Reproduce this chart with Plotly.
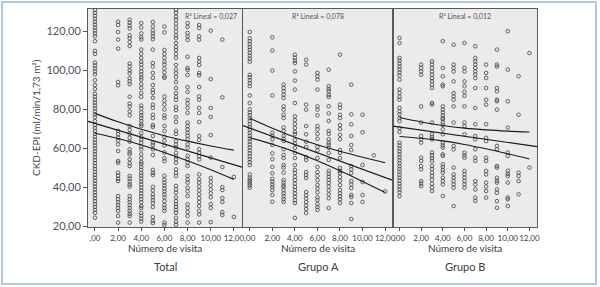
import plotly.graph_objects as go

W, H = 600, 287

# ---------------- data ----------------
visit_cols = [0, 2, 3, 4, 5, 6, 7, 8, 9, 10, 11, 12]

total_vals = [
    [131, 129.5, 128, 126.5, 125, 123.5, 122, 120.5, 119, 117.5, 115, 110, 108.5, 104, 102.5, 101, 99.5,
     98, 95, 92.5, 90.5, 88, 86.5, 85, 83.5, 82, 80.5, 79, 77.5, 76, 74, 72, 70.5, 69, 67.5, 66, 64.5, 63,
     61.5, 60, 58.5, 57, 55.5, 54, 52.5, 51, 49.5, 48, 46.5, 45, 43.5, 42, 40.5, 39, 37.5, 36, 34.5, 33,
     31.5, 30, 28.5, 27, 24.5],
    [125, 123.3, 119.7, 115.8, 111.2, 94.1, 92.4, 69, 67.3, 65.6, 64, 62.1, 58.7, 53.6, 52.7, 47.6, 46,
     44.5, 43.3, 35.6, 34, 32.5, 31, 29.5, 27.9, 25.4, 22],
    [126, 124.5, 123, 121.5, 118, 116.5, 114.5, 112.5, 103.5, 102, 100, 98.5, 96, 94.5, 93, 86.5, 83, 81.5,
     79, 77, 71.5, 69.5, 67.5, 65.5, 63.5, 59.6, 58, 57, 54.4, 52.5, 51, 45.9, 44.5, 43, 41.5, 40.5, 35.6,
     34, 32.5, 31, 29.5, 28, 26.5, 25.4, 22],
    [124.3, 122, 119, 117, 115.8, 110.7, 108.5, 106.4, 104.5, 103, 101.3, 99.5, 98, 96.5, 95.3, 93, 91,
     88.5, 86.5, 82, 80.5, 78.5, 77, 75.6, 74, 72.5, 71.5, 68, 66, 64.5, 63, 61, 59.5, 57, 55, 53, 52,
     50.5, 49, 47.4, 46, 44.5, 43, 41.5, 40, 38.5, 37, 35.5, 34, 32.5, 30.5, 29.5, 27, 25.5, 24, 22.5],
    [124.9, 122.6, 120.5, 119, 117.5, 116, 110.7, 103.8, 102, 98.7, 96.2, 92.5, 90, 88.5, 86, 82.5, 80.8,
     77.3, 75.6, 72, 71, 66.4, 63, 61.8, 59.6, 56.7, 49, 47.5, 46.4, 40.3, 38.5, 36.5, 35, 33.5, 32, 30,
     24.9, 23, 21.8],
    [122.5, 119.5, 110.5, 108.5, 106.5, 104.5, 103, 101, 99, 97, 96.2, 86.7, 84.5, 82.5, 80, 77, 75.6,
     71.6, 69, 66, 64, 61.5, 58, 55, 53.5, 46, 44, 42.5, 41, 39.5, 38, 36.5, 35, 33, 31, 29.5, 28, 22, 20.8],
    [131, 129.5, 127.5, 126, 124, 122, 120, 118, 116.5, 114, 112, 110.5, 108.5, 106.5, 102.8, 100.4, 98.5,
     96.5, 94, 91, 88.5, 86.5, 84.9, 81.3, 79.7, 76, 73.6, 69, 67.5, 63.8, 62, 60.4, 57.8, 56, 54.5, 52.7,
     49.3, 47.5, 45.9, 40.8, 39, 37.3, 34.8, 33, 31.5, 30, 28.5, 27, 24.5, 22.5, 21],
    [124.3, 122.3, 119.2, 117.5, 115.6, 107, 101.3, 100.3, 97.7, 91.5, 89, 84.9, 83, 80.8, 78.2, 73.3,
     71.5, 69.8, 68.1, 66.5, 64.7, 62.1, 60.4, 56.2, 54.5, 52.7, 51, 45.9, 44, 42.5, 39.9, 38, 35.6, 31.4,
     29.5, 27.5, 25.4, 22],
    [123.3, 121.8, 117.5, 115.8, 106.4, 104.5, 102.8, 98.7, 97.5, 91.5, 86.7, 85, 80.8, 78.2, 73.6, 66.4,
     64.4, 59.6, 57.8, 56, 54.4, 46.7, 44.2, 42.5, 40.5, 38.5, 36.5, 34.5, 32.5, 30.5, 28, 26.2, 22],
    [120.4, 95.6, 80.8, 76.2, 66.9, 55.3, 44.9, 43, 41, 39, 37, 35, 31.5, 29.5, 22.3],
    [115.8, 86.2, 50.5, 40.2, 38.7, 34.6, 32.6, 27.4, 25.9],
    [45.4, 24.9],
]

grupo_a_vals = [
    [119.7, 116.5, 115, 113.5, 112, 110.5, 109, 107.5, 106, 104.5, 97.8, 96.5, 95, 93.5, 92, 87.2, 83.3,
     80, 78.5, 77, 75.6, 74, 72.5, 71, 69.5, 68, 66.5, 65, 63.5, 62, 60.5, 59, 57.5, 56, 54.5, 53, 51.5,
     46.7, 45, 44, 43, 42, 41, 39.9],
    [117, 110.2, 99.9, 87.2, 68.1, 66.5, 64.7, 61.8, 57.5, 54.5, 50.6, 47.3, 44.4, 43, 41.5, 40.3, 38.7,
     36.2, 32.7],
    [92.7, 91, 89.3, 87.6, 85.9, 81.6, 79.9, 77.3, 75.6, 70.8, 69, 66.4, 65, 63.8, 59.6, 56.7, 55.1, 51.5,
     50.2, 47.6, 43.8, 42.5, 41, 40.3, 38.7, 37, 35.5, 34, 32.6],
    [108.1, 106.5, 105, 103.8, 99.5, 94.8, 90.2, 83.3, 76.5, 74.5, 72.5, 70.5, 68.5, 67.3, 64.4, 62.5,
     60.3, 57.7, 55.1, 51.5, 49, 47.4, 45.5, 43.8, 42, 40.3, 38.7, 37, 35.3, 33.5, 32, 24.4],
    [105.5, 103, 82.5, 79.9, 71.5, 67.3, 63.5, 60.8, 55.6, 54.1, 47.9, 46.4, 44.9, 37.7, 36, 34.3, 32.5,
     30.8, 29, 26.9],
    [98.7, 97, 95.3, 90.2, 81.6, 79.9, 77, 71.5, 69.8, 67.5, 65, 60.8, 59, 55.1, 50.5, 47.9, 46, 43.8,
     41.3, 39.5, 37.5, 35, 33.6, 31.5, 30, 28.5],
    [100.4, 91.9, 90.5, 89.3, 87.5, 86.4, 81.6, 78, 74.1, 69, 67.5, 64.7, 63, 61.8, 60.4, 57.8, 54.1,
     48.5, 47, 45.5, 44, 42.3, 40.5, 38.5, 36.5, 34.5, 29.5],
    [108.1, 82.5, 80.8, 77.3, 75.6, 72, 70, 67, 64.7, 59.2, 57.7, 55, 50, 48.5, 47.4, 45.4, 43.5, 41.3,
     38.7, 37, 35.5, 34, 32],
    [92.7, 77.5, 72.4, 66.4, 61.8, 59.2, 51, 49.3, 47.4, 43.3, 41.6, 39.7, 36.2, 35.1, 32, 23.8],
    [77.3, 68.3, 51.5, 42.8, 36.2, 32.6],
    [56.5],
    [38],
]

grupo_b_vals = [
    [116.7, 114.1, 106.4, 105, 103.5, 102, 100.5, 99, 97.5, 95.3, 90.2, 88.5, 86.5, 85, 80.8, 79, 77.5,
     75.6, 74, 70.5, 68.5, 63, 61.5, 60, 58.5, 57, 55.5, 54, 52.5, 51, 49.5, 48, 46.5, 45, 43.5, 42, 40.5,
     39, 37.5, 35.6],
    [103, 101.2, 99.5, 97.8, 81.6, 73.3, 66.4, 64.7, 63, 55.3, 53.6, 51, 49.3, 43.3, 42, 40.8],
    [104.7, 103, 101.3, 99.5, 97.8, 96, 94.5, 92.7, 91, 83.3, 82.5, 73.3, 67.3, 65.9, 64.7, 57.9, 56.5,
     55, 53.6, 51, 49.5, 47.6, 45.9, 44, 42, 40, 38.2],
    [115, 101.3, 97, 92.7, 91.9, 81.6, 80, 78.5, 77, 75.6, 75, 73.5, 72, 69.8, 67.3, 63, 61.5, 60.4, 57,
     56.2, 51.9, 50.5, 49, 47.6, 45, 43.3, 41.6, 35.6],
    [113.2, 103, 101.2, 99.5, 94.4, 88.4, 86.7, 85, 81.6, 73.3, 61.3, 59.6, 50.2, 46.7, 45, 43.3, 41.6,
     39.9, 30.5],
    [114.1, 101.3, 99.5, 94.4, 91.9, 89, 87, 81.6, 73.3, 71.5, 67.3, 57.9, 56.5, 55.3, 48.5, 46.8, 45,
     43.3, 41.6, 39.9],
    [112.4, 106.4, 104.7, 103, 101.3, 99.6, 97.9, 96.1, 91, 80.8, 72.4, 66.4, 64.7, 59.6, 55.3, 53.6,
     43.3, 41.5, 39, 34.8, 33.1],
    [103, 98.7, 96.1, 91, 85, 82.5, 72.4, 65.5, 63.8, 55.3, 53.6, 48.5, 46.7, 42.5, 40.5, 38.2, 34.8],
    [110.7, 103, 102, 91, 89.3, 85, 84.2, 79.9, 61.3, 59.6, 51, 50.2, 45, 43.5, 42.5, 39, 37.3, 33, 29.6],
    [120.1, 100.4, 84.2, 70.7, 57.9, 56.2, 48.5, 47, 45.9, 42.5, 34.8, 34, 30.5],
    [97, 77.3, 47.6, 45.9, 43.3, 36.5],
    [108.9, 50.2],
]

# fit lines (value at the two x-axis limits) and 95% CI bands
fit_edge_x = [-0.6, 12.7]
total_fit = [73.96, 50.42]
grupo_a_fit = [71.77, 43.58]
grupo_b_fit = [71.47, 60.97]

band_x = [0, 2, 4, 6, 8, 10, 12]
total_upper = [78.0, 73.65, 69.82, 66.57, 63.79, 61.3, 59.16]
total_lower = [67.8, 65.07, 61.82, 57.99, 53.69, 49.1, 44.16]
grupo_a_upper = [75.5, 70.36, 65.77, 61.88, 58.54, 55.52, 52.66]
grupo_a_lower = [65.5, 62.16, 58.27, 53.68, 48.54, 43.08, 37.46]
grupo_b_upper = [75.85, 73.6, 71.78, 70.44, 69.53, 68.89, 68.42]
grupo_b_lower = [66.15, 65.24, 63.9, 62.08, 59.83, 57.31, 54.62]

r2_labels = ["R² Lineal = 0,027", "R² Lineal = 0,078", "R² Lineal = 0,012"]
panel_names = ["Total", "Grupo A", "Grupo B"]
x_title = "Número de visita"
y_title = "CKD-EPI (ml/min/1,73 m²)"
x_tickvals = [0, 2, 4, 6, 8, 10, 12]
x_ticktext = [",00", "2,00", "4,00", "6,00", "8,00", "10,00", "12,00"]
y_tickvals = [20, 40, 60, 80, 100, 120]
y_ticktext = ["20,00", "40,00", "60,00", "80,00", "100,00", "120,00"]

# ---------------- layout geometry (pixels) ----------------
panel_px = [(88, 242), (243, 393), (393, 537)]
plot_top, plot_bottom = 9, 227
x_range = [-0.6, 12.7]
y_range = [19.75, 131.5]

FONT = "Lato, 'Open Sans', sans-serif"
fig = go.Figure()

panels = [
    (total_vals, total_fit, total_upper, total_lower),
    (grupo_a_vals, grupo_a_fit, grupo_a_upper, grupo_a_lower),
    (grupo_b_vals, grupo_b_fit, grupo_b_upper, grupo_b_lower),
]

for i, (vals, fit, up, lo) in enumerate(panels):
    xs, ys = [], []
    for xv, col in zip(visit_cols, vals):
        for v in col:
            xs.append(xv)
            ys.append(v)
    ax = "" if i == 0 else str(i + 1)
    xa, ya = "x" + ax, "y" + ax
    fig.add_trace(go.Scatter(
        x=xs, y=ys, mode="markers", xaxis=xa, yaxis=ya, showlegend=False, hoverinfo="skip",
        marker=dict(symbol="circle-open", size=3.6, color="#404040", line=dict(width=0.8, color="#404040")),
    ))
    for band in (up, lo):
        fig.add_trace(go.Scatter(
            x=band_x, y=band, mode="lines", line=dict(color="#1a1a1a", width=1.1, shape="spline"),
            xaxis=xa, yaxis=ya, showlegend=False, hoverinfo="skip",
        ))
    fig.add_trace(go.Scatter(
        x=fit_edge_x, y=fit, mode="lines", line=dict(color="#1a1a1a", width=1.2),
        xaxis=xa, yaxis=ya, showlegend=False, hoverinfo="skip",
    ))

    x0, x1 = panel_px[i]
    xaxis = dict(
        domain=[x0 / W, x1 / W], range=x_range, anchor=ya, automargin=False,
        tickvals=x_tickvals, ticktext=x_ticktext, ticks="outside", ticklen=3, tickwidth=1,
        tickangle=0, tickcolor="#555555", showgrid=False, zeroline=False, showline=True,
        linecolor="#5a5a5a", linewidth=1, mirror=True,
        tickfont=dict(family=FONT, size=8, color="#3c3c3c"),
    )
    yaxis = dict(
        domain=[1 - plot_bottom / H, 1 - plot_top / H], range=y_range, anchor=xa, automargin=False,
        tickvals=y_tickvals, ticktext=y_ticktext if i == 0 else [""] * len(y_tickvals),
        ticks="outside" if i == 0 else "", ticklen=4, tickwidth=1, tickcolor="#555555",
        showgrid=False, zeroline=False, showline=True, linecolor="#5a5a5a", linewidth=1, mirror=True,
        tickfont=dict(family=FONT, size=11, color="#4a5264"),
    )
    fig.layout["xaxis" + ax] = xaxis
    fig.layout["yaxis" + ax] = yaxis

annotations = []
for i in range(3):
    x0, x1 = panel_px[i]
    cx = (x0 + x1) / 2
    if i == 0:
        annotations.append(dict(x=(x1 - 3) / W, y=1 - 17 / H, xanchor="right", text=r2_labels[i]))
    else:
        annotations.append(dict(x=cx / W, y=1 - 17 / H, xanchor="center", text=r2_labels[i]))
    annotations[-1].update(font=dict(family=FONT, size=7, color="#555555"))
    annotations.append(dict(x=cx / W, y=1 - 248 / H, xanchor="center", text=x_title,
                            font=dict(family=FONT, size=10, color="#3f3a3a")))
    annotations.append(dict(x=cx / W, y=1 - 266 / H, xanchor="center", text=panel_names[i],
                            font=dict(family=FONT, size=11, color="#3f3a3a")))
annotations.append(dict(x=36 / W, y=1 - 118 / H, xanchor="center", textangle=-90, text=y_title,
                        font=dict(family=FONT, size=10, color="#4a4444")))
for a in annotations:
    a.update(xref="paper", yref="paper", showarrow=False, yanchor="middle")

fig.update_layout(
    width=W, height=H, margin=dict(l=0, r=0, t=0, b=0),
    paper_bgcolor="white", plot_bgcolor="#ebebeb", template="none",
    annotations=annotations,
    shapes=[dict(type="rect", xref="paper", yref="paper", x0=2 / W, x1=596 / W, y0=1 - 284 / H,
                 y1=1 - 2 / H, line=dict(color="#9cb6d6", width=1.5))],
)

fig.write_html("out.html", config={"displayModeBar": False},
               post_script="document.body.style.margin='0';document.body.style.overflow='hidden';")
